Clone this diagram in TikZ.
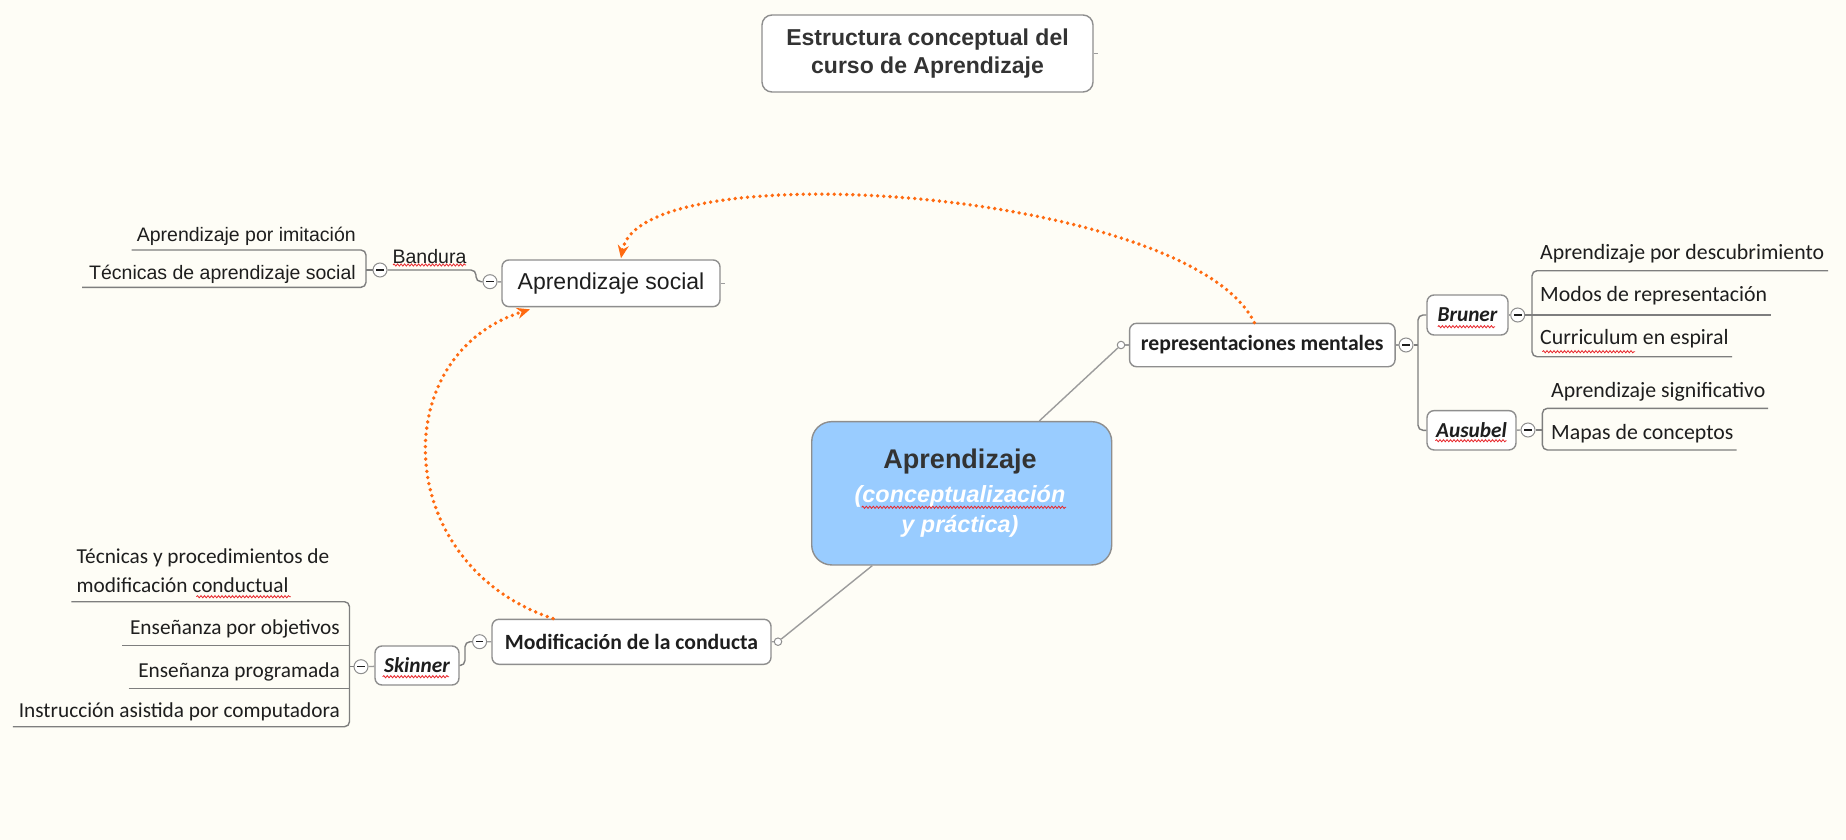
\documentclass[tikz,border=0pt]{standalone}
\usepackage{fontspec}
\setmainfont{Liberation Sans}
\newfontfamily\calib{Carlito}
\usetikzlibrary{arrows.meta,decorations.pathmorphing}
\definecolor{bgc}{HTML}{FEFDF6}
\definecolor{boxline}{HTML}{8E8E8E}
\definecolor{conn}{HTML}{9C9C9C}
\definecolor{ulc}{HTML}{7E7E7E}
\definecolor{orangec}{HTML}{FF6A10}
\definecolor{blueb}{HTML}{99CCFF}
\definecolor{txt}{HTML}{1E1E1E}
\definecolor{darkt}{HTML}{333333}
\definecolor{wavy}{HTML}{E8262B}
\begin{document}
\begin{tikzpicture}[x=1pt,y=-1pt,
  mbox/.style={draw=boxline, line width=1.4pt, fill=white, rounded corners=7pt, inner sep=0pt, text=txt},
  lt/.style={inner sep=0pt, text=txt, font=\fontsize{19.5}{23}\selectfont},
  ct/.style={inner sep=0pt, text=txt, font=\calib\fontsize{21.8}{28.3}\selectfont},
  ctl/.style={inner sep=0pt, text=txt, font=\calib\fontsize{21.3}{28.3}\selectfont},
  cbold/.style={font=\calib\bfseries\fontsize{21.7}{25}\selectfont},
  cbit/.style={font=\calib\bfseries\itshape\fontsize{21.3}{25}\selectfont},
  collapse/.style={circle, draw=boxline, fill=white, line width=1pt, minimum size=14pt, inner sep=0pt,
    path picture={\draw[line width=1.5pt, txt] ([xshift=-3.8pt]path picture bounding box.center) -- ([xshift=3.8pt]path picture bounding box.center);}},
  knob/.style={circle, draw=boxline, fill=white, line width=1pt, minimum size=7.5pt, inner sep=0pt},
  uline/.style={draw=ulc, line width=1.4pt, rounded corners=5pt},
  conline/.style={draw=conn, line width=1.4pt},
  dotarrow/.style={draw=orangec, line width=3.8pt, line cap=round, dash pattern=on 0pt off 6.2pt, -{Stealth[length=13pt,width=11pt]}},
  squig/.style={draw=wavy, line width=0.8pt, decorate, decoration={snake, amplitude=1.1pt, segment length=3.5pt}}
]
\fill[bgc] (0,0) rectangle (1846,840);
\useasboundingbox (0,0) rectangle (1846,840);

% title
\node[mbox, rounded corners=10pt, minimum width=331pt, minimum height=77pt, align=center,
  font=\bfseries\fontsize{23}{28}\selectfont, text=darkt] (title) at (927.5,53.5) {Estructura conceptual del\\curso de Aprendizaje};
\draw[conline] (title.east) -- ++(4,0);

% central
\node[draw=boxline, line width=1.4pt, fill=blueb, rounded corners=20pt, minimum width=300pt, minimum height=143.3pt, inner sep=0pt] (central) at (961.7,493.3) {};
\node[inner sep=0pt, text=darkt, font=\bfseries\fontsize{27}{32}\selectfont] (ct1) at (960,461.7) {Aprendizaje};
\node[inner sep=0pt, text=white, font=\bfseries\itshape\fontsize{23.4}{28}\selectfont] (ct2) at (960,496.7) {(conceptualización};
\node[inner sep=0pt, text=white, font=\bfseries\itshape\fontsize{23.4}{28}\selectfont] (ct3) at (960,526.7) {y práctica)};

% main branch boxes
\node[mbox, minimum width=218pt, minimum height=46.7pt, font=\fontsize{23}{27}\selectfont] (as) at (611,283.3) {Aprendizaje social};
\draw[conline] (as.east) -- ++(4,0);
\node[mbox, cbold, minimum width=265.5pt, minimum height=43.4pt] (rm) at (1262.3,345) {representaciones mentales};
\node[mbox, cbold, minimum width=279pt, minimum height=45pt] (mod) at (631.5,641.8) {Modificación de la conducta};
\node[mbox, cbit, minimum width=81pt, minimum height=40pt] (br) at (1467.5,315) {Bruner};
\node[mbox, cbit, minimum width=89pt, minimum height=39.3pt] (au) at (1471.5,430.3) {Ausubel};
\node[mbox, cbit, minimum width=84pt, minimum height=39pt] (sk) at (417,665.5) {Skinner};

% knobs and collapse circles
\node[knob] (corm) at (1121,345) {};
\node[knob] (comod) at (778,641.7) {};
\node[collapse] (cas) at (490,281.7) {};
\node[collapse] (cbd) at (380,270) {};
\node[collapse] (crm) at (1406,345) {};
\node[collapse] (cbr) at (1517.7,315) {};
\node[collapse] (cau) at (1528,430) {};
\node[collapse] (cmod) at (479.6,641.7) {};
\node[collapse] (csk) at (361,666.7) {};

% central connectors
\draw[conline] (comod) -- (central);
\draw[conline] (central) -- (corm);
\draw[conline] (corm) -- (rm);
\draw[conline] (mod) -- (comod);
\draw[conline] (rm) -- (crm);
\draw[conline] (as) -- (cas);
\draw[conline] (br) -- (cbr);
\draw[conline] (au) -- (cau);
\draw[conline] (sk) -- (csk);
\draw[conline] (mod) -- (cmod);

% left top group
\node[lt] (bd) at (429.5,256.7) {Bandura};
\draw[uline] (cbd.east) -- (476,270) -- (476,281.7) -- (cas.west);
\coordinate (u1) at (131.5,250);
\coordinate (u2) at (82,287.3);
\draw[uline] (u1) -- (366,250) -- (366,287.3) -- (u2);
\draw[uline] (366,270) -- (cbd.west);
\node[lt, anchor=east] (t1) at (356,236.7) {Aprendizaje por imitación};
\node[lt, anchor=east] (t2) at (356,274) {Técnicas de aprendizaje social};

% right group
\draw[uline] (br.west) -- (1418,315) -- (1418,430.3) -- (au.west);
\draw[uline] (crm.east) -- (1418,345);
\coordinate (u3) at (1828,270.7);
\coordinate (u4) at (1771,315);
\coordinate (u5) at (1732,356.7);
\draw[uline] (u3) -- (1532,270.7) -- (1532,356.7) -- (u5);
\draw[uline] (cbr.east) -- (u4);
\node[ct, anchor=west] (t3) at (1540,253.3) {Aprendizaje por descubrimiento};
\node[ct, anchor=west] (t4) at (1540,296) {Modos de representación};
\node[ct, anchor=west] (t5) at (1540,338.3) {Curriculum en espiral};
\coordinate (u6) at (1768,408.3);
\coordinate (u7) at (1736.5,450);
\draw[uline] (u6) -- (1542.4,408.3) -- (1542.4,450) -- (u7);
\draw[uline] (cau.east) -- (1542.4,430);
\node[ct, anchor=west] (t6) at (1551,391.7) {Aprendizaje significativo};
\node[ct, anchor=west] (t7) at (1551,433.3) {Mapas de conceptos};

% bottom left group
\draw[uline] (sk.east) -- (465,665.5) -- (465,641.7) -- (cmod.west);
\coordinate (u8) at (71.4,601.7);
\coordinate (u9) at (12.8,726.7);
\coordinate (u10) at (122,645.7);
\coordinate (u11) at (128.6,688.3);
\draw[uline] (u8) -- (349.5,601.7) -- (349.5,726.7) -- (u9);
\draw[uline] (u10) -- (349.5,645.7);
\draw[uline] (u11) -- (349.5,688.3);
\draw[uline] (csk.west) -- (349.5,666.7);
\node[ctl, anchor=west, align=left] (t8) at (76.5,570.8) {Técnicas y procedimientos de\\modificación conductual};
\node[ctl, anchor=east] (t9) at (340,629) {Enseñanza por objetivos};
\node[ctl, anchor=east] (t10) at (340,671.7) {Enseñanza programada};
\node[ctl, anchor=east] (t11) at (340,711.7) {Instrucción asistida por computadora};

% spelling squiggles
\draw[squig] (393,265) -- (466,265);
\draw[squig] (1437.8,326.7) -- (1495,326.7);
\draw[squig] (1435.4,440.7) -- (1506.7,440.7);
\draw[squig] (1542.4,351.7) -- (1635,351.7);
\draw[squig] (382.7,676.7) -- (449,676.7);
\draw[squig] (196.4,596.7) -- (290.8,596.7);
\draw[squig] (861.7,507.3) -- (1066,507.3);

% orange dotted arrows
\draw[dotarrow] ([xshift=-8pt]rm.north) .. controls (1190,190) and (640,150) .. ([xshift=10pt,yshift=1pt]as.north);
\draw[dotarrow] ([xshift=-78.5pt]mod.north) .. controls (392,565) and (385,355) .. ([xshift=-81pt,yshift=-2pt]as.south);
\end{tikzpicture}
\end{document}
